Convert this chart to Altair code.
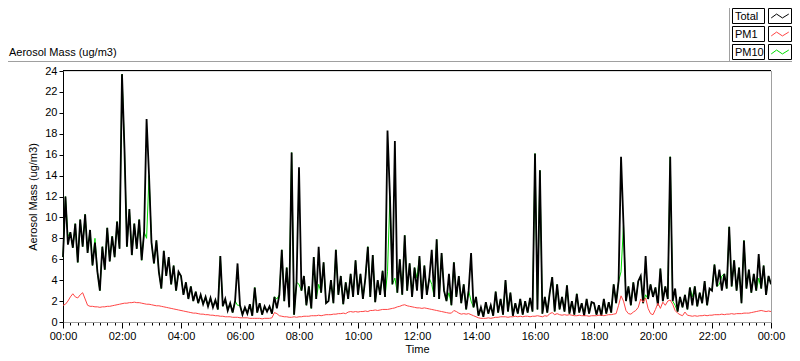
import altair as alt
import pandas as pd

# ---------------- data (5-minute readings, one row per hour) ----------------
total_by_hour = [
    [6.2, 12.0, 7.4, 8.6, 7.1, 9.4, 5.7, 9.8, 7.2, 10.3, 6.6, 8.8],
    [5.4, 7.6, 4.8, 3.0, 7.2, 5.0, 9.0, 5.8, 8.2, 6.2, 9.6, 7.0],
    [23.7, 16.6, 7.2, 10.8, 6.4, 9.4, 7.0, 9.8, 5.9, 8.6, 19.4, 14.0],
    [7.6, 5.6, 7.8, 4.8, 3.2, 6.8, 4.4, 6.2, 3.6, 5.4, 3.0, 4.8],
    [4.4, 2.6, 3.8, 2.2, 3.4, 2.0, 2.9, 1.8, 2.6, 1.7, 2.4, 1.5],
    [2.3, 1.4, 2.1, 1.2, 6.3, 1.5, 2.2, 1.1, 1.8, 0.9, 2.0, 5.6],
    [1.6, 0.7, 1.4, 0.8, 1.7, 0.6, 3.3, 0.9, 1.8, 0.7, 1.5, 1.0],
    [1.5, 0.8, 2.4, 1.3, 2.6, 6.9, 2.0, 5.2, 1.4, 16.2, 0.7, 3.8],
    [14.8, 3.0, 4.4, 1.6, 3.4, 1.3, 6.2, 2.2, 7.2, 2.8, 5.7, 1.8],
    [2.0, 4.0, 1.8, 6.9, 2.6, 4.4, 1.7, 3.8, 2.2, 4.6, 2.4, 5.9],
    [2.6, 4.6, 2.2, 4.2, 7.2, 2.4, 6.4, 1.9, 4.0, 2.6, 4.9, 2.4],
    [18.3, 12.0, 3.6, 17.3, 2.8, 6.0, 2.6, 8.3, 3.0, 5.6, 2.4, 5.2],
    [3.0, 6.3, 2.2, 5.4, 2.6, 4.2, 6.9, 2.4, 7.9, 2.2, 6.6, 3.0],
    [2.0, 4.6, 1.6, 5.7, 2.4, 4.4, 1.8, 3.6, 1.2, 3.0, 6.6, 1.4],
    [2.4, 0.6, 1.4, 0.5, 1.9, 0.8, 1.6, 0.6, 2.9, 0.9, 2.2, 0.7],
    [4.0, 1.0, 2.8, 0.6, 1.8, 0.8, 2.2, 0.7, 2.0, 0.9, 2.3, 1.0],
    [16.1, 1.2, 14.5, 0.8, 2.4, 0.9, 2.8, 4.3, 1.0, 3.6, 1.2, 2.4],
    [1.0, 3.5, 0.8, 2.0, 0.7, 2.7, 0.9, 1.8, 0.6, 2.2, 0.8, 1.9],
    [1.8, 0.7, 1.6, 0.6, 2.2, 0.8, 1.9, 0.9, 3.6, 1.8, 3.9, 15.8],
    [9.3, 2.0, 3.4, 1.6, 3.8, 2.0, 3.9, 4.4, 1.8, 6.3, 2.2, 3.6],
    [2.4, 3.3, 1.6, 5.1, 2.0, 3.4, 2.2, 15.8, 2.0, 3.2, 1.0, 2.4],
    [1.4, 2.6, 1.2, 3.3, 1.6, 3.4, 1.5, 2.8, 1.8, 3.9, 1.6, 3.2],
    [3.0, 5.5, 3.4, 5.0, 3.0, 4.6, 3.2, 9.1, 3.4, 5.9, 3.0, 5.2],
    [1.8, 7.8, 3.2, 5.0, 2.8, 4.6, 3.0, 6.5, 3.2, 5.4, 2.6, 4.4],
    [3.6],
]

pm1_by_hour = [
    [1.6, 1.7, 2.0, 2.4, 2.7, 2.4, 2.3, 2.6, 2.8, 2.2, 1.6, 1.5],
    [1.5, 1.45, 1.45, 1.4, 1.45, 1.45, 1.5, 1.5, 1.55, 1.6, 1.65, 1.7],
    [1.75, 1.8, 1.8, 1.85, 1.85, 1.9, 1.85, 1.85, 1.8, 1.75, 1.7, 1.7],
    [1.65, 1.6, 1.55, 1.55, 1.5, 1.45, 1.4, 1.35, 1.3, 1.25, 1.2, 1.15],
    [1.1, 1.05, 1.0, 0.95, 0.9, 0.85, 0.85, 0.8, 0.75, 0.75, 0.7, 0.7],
    [0.65, 0.65, 0.6, 0.6, 0.55, 0.55, 0.5, 0.5, 0.5, 0.45, 0.45, 0.45],
    [0.4, 0.4, 0.4, 0.4, 0.35, 0.35, 0.35, 0.35, 0.35, 0.3, 0.35, 0.35],
    [0.35, 0.4, 0.9, 0.8, 0.6, 0.55, 0.5, 0.5, 0.45, 0.45, 0.5, 0.45],
    [0.5, 0.5, 0.55, 0.55, 0.55, 0.6, 0.6, 0.6, 0.65, 0.6, 0.65, 0.7],
    [0.7, 0.7, 0.75, 0.75, 0.8, 0.8, 0.85, 0.8, 0.95, 1.0, 0.95, 1.0],
    [0.95, 1.0, 1.0, 1.05, 1.0, 1.1, 1.1, 1.15, 1.1, 1.15, 1.2, 1.2],
    [1.2, 1.25, 1.3, 1.35, 1.45, 1.5, 1.6, 1.65, 1.55, 1.5, 1.45, 1.4],
    [1.35, 1.35, 1.3, 1.35, 1.3, 1.25, 1.2, 1.15, 1.1, 1.05, 1.0, 0.95],
    [0.9, 0.85, 0.85, 1.1, 1.0, 0.85, 0.75, 0.8, 0.75, 0.8, 0.7, 0.6],
    [0.5, 0.4, 0.35, 0.35, 0.35, 0.4, 0.35, 0.4, 0.45, 0.45, 0.5, 0.5],
    [0.5, 0.45, 0.5, 0.5, 0.55, 0.5, 0.55, 0.5, 0.55, 0.55, 0.5, 0.55],
    [0.55, 0.6, 0.55, 0.5, 0.6, 0.55, 0.8, 0.9, 0.7, 0.8, 0.7, 0.65],
    [0.7, 0.65, 0.7, 0.65, 0.6, 0.6, 0.65, 0.6, 0.6, 0.6, 0.55, 0.6],
    [0.6, 0.6, 0.65, 0.65, 0.6, 0.65, 0.7, 0.7, 0.75, 0.8, 1.6, 2.5],
    [2.0, 1.1, 0.8, 0.75, 0.95, 1.1, 1.4, 2.2, 1.9, 2.3, 1.3, 0.8],
    [0.7, 1.2, 1.8, 1.3, 1.9, 1.6, 2.0, 2.1, 1.7, 1.1, 0.85, 0.7],
    [0.6, 0.95, 0.65, 0.6, 0.55, 0.6, 0.55, 0.6, 0.6, 0.65, 0.6, 0.65],
    [0.65, 0.7, 0.7, 0.7, 0.75, 0.7, 0.75, 0.75, 0.8, 0.75, 0.8, 0.8],
    [0.8, 0.85, 0.85, 0.85, 0.9, 0.95, 1.0, 1.05, 1.1, 1.05, 1.0, 1.05],
    [1.0],
]

# PM10 follows Total except at these 5-minute readings (where the green shows)
pm10_differs = {
    2: 8.2, 13: 8.0, 34: 8.0, 71: 1.6, 87: 2.2, 92: 2.6, 96: 3.6, 104: 3.6,
    132: 4.8, 135: 4.2, 144: 4.2, 150: 3.6, 157: 2.8, 166: 2.0, 227: 4.8,
    237: 2.6, 249: 1.6, 256: 2.4, 267: 3.6, 268: 4.4, 283: 4.2,
}

series_names = ["Total", "PM1", "PM10"]
series_colors = ["#000000", "#ff4444", "#00dd00"]
series_widths = {"Total": 1.8, "PM1": 1.0, "PM10": 1.0}
y_ticks = list(range(0, 25, 2))
x_ticks = [i * 0.25 for i in range(97)]   # 15-minute tick marks, labels every 2 h

total = [v for row in total_by_hour for v in row]
pm1 = [v for row in pm1_by_hour for v in row]
pm10 = list(total)
for k, v in pm10_differs.items():
    pm10[k] = v
hours = [i * 5 / 60 for i in range(len(total))]

df = pd.DataFrame({
    "hour": hours * 3,
    "value": total + pm1 + pm10,
    "series": ["Total"] * len(total) + ["PM1"] * len(pm1) + ["PM10"] * len(pm10),
})

FONT = "Liberation Sans"
W, H = 708, 251

x_enc = alt.X(
    "hour:Q",
    scale=alt.Scale(domain=[0, 24], nice=False, zero=False),
    axis=alt.Axis(
        values=x_ticks,
        labelExpr="datum.value % 2 == 0 ? ((datum.value % 24 < 10 ? '0' : '') + (datum.value % 24) + ':00') : ''",
        labelOverlap=False, labelFlush=False,
        tickSize={"condition": {"test": "datum.value % 2 == 0", "value": 6}, "value": 3},
        tickColor="#000000", domainColor="#a0a0a0", labelColor="#000000",
        labelFontSize=11, labelPadding=2, labelFont=FONT,
        title="Time", titleFontWeight="normal", titleFontSize=11, titleFont=FONT,
        titleColor="#000000", titlePadding=2, grid=False,
    ),
)
y_enc = alt.Y(
    "value:Q",
    scale=alt.Scale(domain=[0, 24], nice=False),
    axis=alt.Axis(
        values=y_ticks, tickSize=4, tickColor="#000000", domainColor="#000000",
        labelColor="#000000", labelFontSize=11, labelPadding=2, labelFont=FONT,
        title="Aerosol Mass (ug/m3)", titleFontWeight="normal", titleFontSize=11,
        titleFont=FONT, titleColor="#000000", titlePadding=6, grid=False,
    ),
)

base = alt.Chart(df)
layers = []
for name in ["PM10", "Total", "PM1"]:
    col = series_colors[series_names.index(name)]
    layers.append(
        base.transform_filter(alt.datum.series == name)
        .mark_line(color=col, strokeWidth=series_widths[name], interpolate="linear")
        .encode(x=x_enc, y=y_enc)
    )

one = pd.DataFrame({"a": [0]})

def rule(x, x2, y, y2, color):
    return alt.Chart(one).mark_rule(color=color, strokeWidth=1).encode(
        x=alt.value(x), x2=alt.value(x2), y=alt.value(y), y2=alt.value(y2))

# frame decorations (LabVIEW style panel)
layers.append(rule(0, W, -0.5, -0.5, "#000000"))         # plot top
layers.append(rule(W + 0.5, W + 0.5, 0, H, "#a0a0a0"))    # plot right
layers.append(rule(-55, 740, -9.5, -9.5, "#a0a0a0"))      # panel top
layers.append(rule(666.5, 666.5, -63, -10, "#a0a0a0"))    # legend panel left

# top-left caption
layers.append(
    alt.Chart(one).mark_text(text="Aerosol Mass (ug/m3)", align="left", baseline="middle",
                             font=FONT, fontSize=11, color="#000000")
    .encode(x=alt.value(-54), y=alt.value(-18))
)

# legend
zig = "M-0.9,0.2L-0.35,-0.2L0.25,0.2L0.9,-0.2"
for i, (name, col) in enumerate(zip(series_names, series_colors)):
    top = -62.5 + 18 * i
    leg = alt.Chart(pd.DataFrame({"series": [name]}))
    layers.append(leg.mark_rect(fill="white", stroke="#000000", strokeWidth=1).encode(
        x=alt.value(669.5), x2=alt.value(701.5), y=alt.value(top), y2=alt.value(top + 15)))
    layers.append(leg.mark_rect(fill="white", stroke="#000000", strokeWidth=1).encode(
        x=alt.value(705.5), x2=alt.value(728.5), y=alt.value(top), y2=alt.value(top + 15)))
    layers.append(leg.mark_text(align="left", baseline="middle", font=FONT, fontSize=11,
                                color="#000000").encode(
        text="series:N", x=alt.value(672), y=alt.value(top + 8)))
    layers.append(leg.mark_point(shape=zig, size=380, filled=False, stroke=col,
                                 strokeWidth=1, opacity=1).encode(
        x=alt.value(717), y=alt.value(top + 7.5)))

chart = alt.layer(*layers).properties(
    width=W, height=H,
    autosize=alt.AutoSizeParams(type="none"),
    padding={"left": 55, "top": 63, "right": 21, "bottom": 31},
    background="white",
).configure_view(stroke=None).configure(font=FONT)

chart.save("out.html", embed_options={"renderer": "svg", "actions": False})
